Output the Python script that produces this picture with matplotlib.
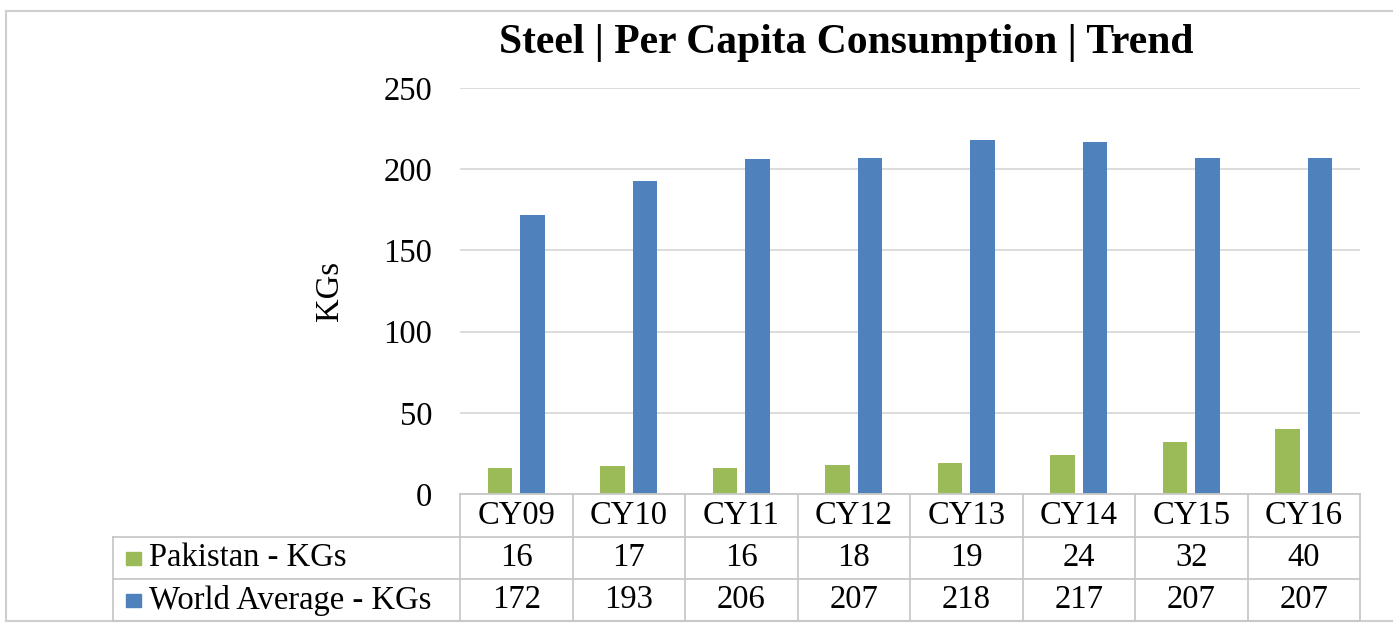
import matplotlib
matplotlib.use("Agg")
import matplotlib.pyplot as plt
import numpy as np

categories = ["CY09", "CY10", "CY11", "CY12", "CY13", "CY14", "CY15", "CY16"]
pakistan = [16, 17, 16, 18, 19, 24, 32, 40]
world = [172, 193, 206, 207, 218, 217, 207, 207]
series_names = ["Pakistan - KGs", "World Average - KGs"]
yticks = [0, 50, 100, 150, 200, 250]
title = "Steel | Per Capita Consumption | Trend"
ylabel = "KGs"

GREEN = "#9BBB59"
BLUE = "#4F81BD"
GRID = "#D9D9D9"
SERIF = ["Liberation Serif", "DejaVu Serif"]
FS = 23.5

W, H = 1393, 625
fig = plt.figure(figsize=(W / 100, H / 100), dpi=100)
fig.patch.set_facecolor("white")

# pixel geometry
x0, x1 = 460, 1360      # plot/table category columns
ytop, ybot = 88, 494    # 250 and 0 lines
tab_left = 113
row_lines = [494, 537, 579, 621]

ax = fig.add_axes([x0 / W, 1 - ybot / H, (x1 - x0) / W, (ybot - ytop) / H])
n = len(categories)
idx = np.arange(n)
bw = 0.22
ax.bar(idx - 0.145, pakistan, width=bw, color=GREEN, zorder=3)
ax.bar(idx + 0.145, world, width=bw, color=BLUE, zorder=3)
ax.set_xlim(-0.5, n - 0.5)
ax.set_ylim(0, 250)
ax.set_yticks(yticks)
ax.set_yticklabels([str(t) for t in yticks], fontfamily=SERIF, fontsize=FS)
ax.tick_params(axis="y", length=0, pad=20)
ax.set_xticks([])
ax.yaxis.grid(True, color=GRID, linewidth=1.3, zorder=0)
for s in ["top", "right", "left", "bottom"]:
    ax.spines[s].set_visible(False)
ax.set_ylabel(ylabel, fontfamily=SERIF, fontsize=FS)
ax.yaxis.set_label_coords(-115 / (x1 - x0), 0.5)

# overlays in pixel coordinates for table, title and frame
ov = fig.add_axes([0, 0, 1, 1], zorder=-1)
ov.set_xlim(0, W)
ov.set_ylim(H, 0)
ov.axis("off")
ov2 = fig.add_axes([0, 0, 1, 1], zorder=5)
ov2.set_xlim(0, W)
ov2.set_ylim(H, 0)
ov2.axis("off")
ov2.patch.set_alpha(0)

# outer frame (right edge runs off the image)
fc = "#CFCFCF"
ov.plot([6, W + 5], [11, 11], color=fc, lw=1.5)
ov.plot([6, 6], [11, 621], color=fc, lw=1.5)
ov.plot([6, W + 5], [621, 621], color=fc, lw=1.5)

ov2.text(846, 43, title, ha="center", va="center", fontfamily=SERIF,
         fontsize=30, fontweight="bold", color="black")

colw = (x1 - x0) / n
lc = "#C8C8C8"
# horizontal lines
ov2.plot([x0, x1], [row_lines[0], row_lines[0]], color=lc, lw=1.3)
for yl in row_lines[1:]:
    ov2.plot([tab_left, x1], [yl, yl], color=lc, lw=1.3)
# vertical lines
for i in range(n + 1):
    xv = x0 + i * colw
    ov2.plot([xv, xv], [row_lines[0], row_lines[-1]], color=lc, lw=1.3)
ov2.plot([tab_left, tab_left], [row_lines[1], row_lines[-1]], color=lc, lw=1.3)

def rowc(r):
    return (row_lines[r] + row_lines[r + 1]) / 2

for i, c in enumerate(categories):
    xc = x0 + (i + 0.5) * colw
    ov2.text(xc, rowc(0), c, ha="center", va="center", fontfamily=SERIF, fontsize=FS)
    ov2.text(xc, rowc(1), str(pakistan[i]), ha="center", va="center", fontfamily=SERIF, fontsize=FS)
    ov2.text(xc, rowc(2), str(world[i]), ha="center", va="center", fontfamily=SERIF, fontsize=FS)

for r, (name, col) in enumerate(zip(series_names, [GREEN, BLUE]), start=1):
    yc = rowc(r)
    ov2.add_patch(plt.Rectangle((126, yc - 6.5), 15, 13, color=col))
    ov2.text(149, yc, name, ha="left", va="center", fontfamily=SERIF, fontsize=FS)

fig.savefig("out.png", dpi=100)
